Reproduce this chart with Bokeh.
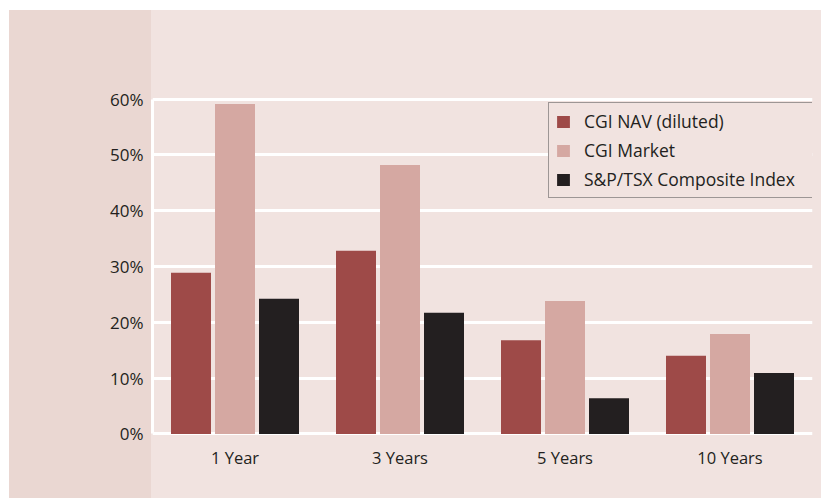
from bokeh.plotting import figure
from bokeh.models import (FactorRange, Range1d, FixedTicker, PrintfTickFormatter,
                          ColumnDataSource, Legend, LegendItem)
from bokeh.transform import dodge
from bokeh.embed import file_html
from bokeh.resources import INLINE

# ---- data ----
periods = ["1 Year", "3 Years", "5 Years", "10 Years"]
cgi_nav = [28.9, 32.8, 16.8, 14.0]
cgi_market = [59.1, 48.2, 23.8, 17.9]
sp_tsx = [24.2, 21.7, 6.4, 10.9]
series_names = ["CGI NAV (diluted)", "CGI Market", "S&P/TSX Composite Index"]
y_ticks = [0, 10, 20, 30, 40, 50, 60]

# ---- styles ----
NAV_C = "#9e4a48"
MKT_C = "#d5a8a2"
TSX_C = "#231f20"
PANEL = "#f1e3e0"
BAND = "#ead7d2"
TEXT = "#231f20"
FONT = "Open Sans"

src = ColumnDataSource(dict(period=periods, nav=cgi_nav, market=cgi_market, tsx=sp_tsx))

p = figure(width=821, height=498,
           x_range=FactorRange(factors=periods, range_padding=0),
           y_range=Range1d(-1, 61),
           output_backend="svg", toolbar_location=None,
           min_border_left=152, min_border_right=9,
           min_border_top=93, min_border_bottom=59)

p.styles = {
    "background": ("linear-gradient(to bottom, #ffffff 0px, #ffffff 10px, transparent 10px, transparent 100%), "
                   f"linear-gradient(to right, #ffffff 0px, #ffffff 9px, {BAND} 9px, {BAND} 151px, {PANEL} 151px, {PANEL} 100%)")
}
p.border_fill_alpha = 0
p.background_fill_alpha = 0
p.outline_line_color = None

off = 44 / 165
bw = 40 / 165
r1 = p.vbar(x=dodge("period", -off, range=p.x_range), top="nav", bottom=0, width=bw,
            source=src, fill_color=NAV_C, line_color=None)
r2 = p.vbar(x=dodge("period", 0, range=p.x_range), top="market", bottom=0, width=bw,
            source=src, fill_color=MKT_C, line_color=None)
r3 = p.vbar(x=dodge("period", off, range=p.x_range), top="tsx", bottom=0, width=bw,
            source=src, fill_color=TSX_C, line_color=None)

# grid
p.xgrid.visible = False
p.ygrid.ticker = FixedTicker(ticks=y_ticks)
p.ygrid.grid_line_color = "white"
p.ygrid.grid_line_width = 3

# y axis
ya = p.yaxis[0]
ya.ticker = FixedTicker(ticks=y_ticks)
ya.formatter = PrintfTickFormatter(format="%d%%")
ya.axis_line_color = "white"
ya.axis_line_width = 3
ya.bounds = (0, 60)
ya.major_tick_line_color = None
ya.minor_tick_line_color = None
ya.major_tick_out = 0
ya.major_tick_in = 0
ya.major_label_standoff = 9
ya.major_label_text_font = FONT
ya.major_label_text_font_size = "17px"
ya.major_label_text_color = TEXT

# x axis
xa = p.xaxis[0]
xa.axis_line_color = None
xa.major_tick_line_color = None
xa.minor_tick_line_color = None
xa.major_tick_out = 0
xa.major_tick_in = 0
xa.major_label_standoff = 6
xa.major_label_text_font = FONT
xa.major_label_text_font_size = "16.5px"
xa.major_label_text_color = TEXT

legend = Legend(items=[LegendItem(label=series_names[0], renderers=[r1]),
                       LegendItem(label=series_names[1], renderers=[r2]),
                       LegendItem(label=series_names[2], renderers=[r3])],
                location=(396, 241))
legend.glyph_width = 16
legend.glyph_height = 15
legend.label_height = 24
legend.label_width = 223
legend.spacing = 5
legend.padding = 6
legend.margin = 0
legend.label_standoff = 13
legend.label_text_font = FONT
legend.label_text_font_size = "17.5px"
legend.label_text_color = TEXT
legend.border_line_color = "#4a4a4a"
legend.border_line_width = 1
legend.background_fill_color = PANEL
legend.background_fill_alpha = 1
p.add_layout(legend, "center")

open("out.html", "w").write(file_html(p, INLINE))
